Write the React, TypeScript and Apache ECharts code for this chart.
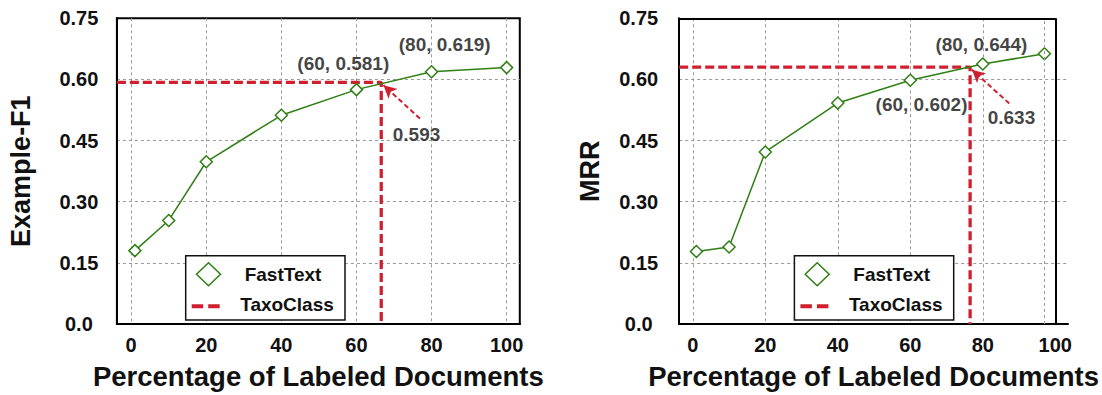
import React, { useEffect, useRef } from "react";
import * as echarts from "echarts";

// ---------- data ----------
const xF1 = [1, 10, 20, 40, 60, 80, 100];
const yF1 = [0.18, 0.254, 0.398, 0.512, 0.575, 0.619, 0.629];
const xMRR = [1, 10, 20, 40, 60, 80, 97];
const yMRR = [0.178, 0.189, 0.422, 0.542, 0.598, 0.638, 0.663];

const taxoF1 = 0.593;
const taxoF1Cross = 66.6;
const taxoMRR = 0.63;
const taxoMRRCross = 76.5;

const annF1Text = ["(60, 0.581)", "(80, 0.619)", "0.593"];
const annF1X = [56.5, 83.5, 76.0];
const annF1Y = [0.64, 0.685, 0.464];
const annMRRText = ["(80, 0.644)", "(60, 0.602)", "0.633"];
const annMRRX = [79.6, 63.1, 87.9];
const annMRRY = [0.685, 0.539, 0.507];

const arrowF1 = [[76.9, 0.504], [67.2, 0.586]];
const arrowMRR = [[87.3, 0.541], [77.0, 0.624]];

const xTicks = [0, 20, 40, 60, 80, 100];
const yMin = 0;
const yMax = 0.75;
const yStep = 0.15;
const xExtF1 = [-3.8, 103.5];
const xExtMRR = [-3.75, 103.5];
const mrrBoxRight = 100;

const seriesNames = ["FastText", "TaxoClass"];
const xTitle = "Percentage of Labeled Documents";
const yTitles = ["Example-F1", "MRR"];

// ---------- style ----------
const GREEN = "#2f7f14";
const RED = "#d01f2e";
const GRID = "#9a9a9a";
const FONT = '"Liberation Sans", Arial, Helvetica, sans-serif';
const TXT = "#111";

function legendGraphic(left: number, top: number) {
  const w = 159.3;
  const h = 64.3;
  const dx = 22.8;
  const dy1 = 18.6;
  const dy2 = 50.5;
  return {
    type: "group",
    x: left,
    y: top,
    z: 100,
    children: [
      {
        type: "rect",
        shape: { x: 0, y: 0, width: w, height: h },
        style: { fill: "#fff", stroke: "#111", lineWidth: 1.5 },
        z: 100,
      },
      {
        type: "polygon",
        shape: { points: [[dx, dy1 - 11.5], [dx + 12, dy1], [dx, dy1 + 11.5], [dx - 12, dy1]] },
        style: { fill: "#fff", stroke: GREEN, lineWidth: 1.5 },
        z: 101,
      },
      {
        type: "line",
        shape: { x1: 6, y1: dy2, x2: 34.3, y2: dy2 },
        style: { stroke: RED, lineWidth: 4, lineDash: [11.5, 5] },
        z: 101,
      },
      {
        type: "text",
        x: 97.3,
        y: dy1,
        style: {
          text: seriesNames[0],
          align: "center",
          verticalAlign: "middle",
          fontSize: 19,
          fontWeight: "bold",
          fontFamily: FONT,
          fill: TXT,
        },
        z: 101,
      },
      {
        type: "text",
        x: 101.3,
        y: dy2 - 1.5,
        style: {
          text: seriesNames[1],
          align: "center",
          verticalAlign: "middle",
          fontSize: 19,
          fontWeight: "bold",
          fontFamily: FONT,
          fill: TXT,
        },
        z: 101,
      },
    ],
  };
}

function xAxisCfg(gridIndex: number, ext: number[]) {
  return {
    type: "value",
    gridIndex,
    min: ext[0],
    max: ext[1],
    minInterval: 20,
    maxInterval: 20,
    axisLine: { show: true, onZero: false, lineStyle: { color: "#000", width: 2 } },
    axisTick: { show: false },
    axisLabel: {
      showMinLabel: false,
      showMaxLabel: false,
      margin: 11,
      fontSize: 20,
      fontWeight: "bold",
      fontFamily: FONT,
      color: TXT,
      formatter: (v: number) => (xTicks.indexOf(Math.round(v * 1000) / 1000) >= 0 ? String(v) : ""),
    },
    splitLine: {
      show: true,
      showMinLine: false,
      showMaxLine: false,
      lineStyle: { color: GRID, type: [3, 3], width: 1 },
    },
    name: xTitle,
    nameLocation: "middle",
    nameGap: 38,
    nameTextStyle: { fontSize: 27.5, fontWeight: "bold", fontFamily: FONT, color: TXT },
  };
}

function yAxisCfg(gridIndex: number, name: string, labelMargin: number, nameGap: number) {
  return {
    type: "value",
    gridIndex,
    min: yMin,
    max: yMax,
    interval: yStep,
    axisLine: { show: true, onZero: false, lineStyle: { color: "#000", width: 2 } },
    axisTick: { show: false },
    axisLabel: {
      align: "center",
      margin: labelMargin,
      fontSize: 20,
      fontWeight: "bold",
      fontFamily: FONT,
      color: TXT,
      formatter: (v: number) => (v === 0 ? "0.0" : v.toFixed(2)),
    },
    splitLine: {
      show: true,
      showMinLine: false,
      showMaxLine: false,
      lineStyle: { color: GRID, type: [3, 3], width: 1 },
    },
    name,
    nameLocation: "middle",
    nameRotate: 90,
    nameGap,
    nameTextStyle: { fontSize: 27, fontWeight: "bold", fontFamily: FONT, color: TXT },
  };
}

function fastTextSeries(idx: number, xs: number[], ys: number[]) {
  return {
    name: seriesNames[0],
    type: "line",
    xAxisIndex: idx,
    yAxisIndex: idx,
    data: xs.map((x, i) => [x, ys[i]]),
    symbol: "diamond",
    symbolSize: [12, 12],
    itemStyle: { color: "#fff", borderColor: GREEN, borderWidth: 1.5 },
    lineStyle: { color: GREEN, width: 1.5 },
    z: 4,
  };
}

function taxoSeries(idx: number, ext: number[], val: number, cross: number, arrow: number[][]) {
  return {
    name: seriesNames[1],
    type: "line",
    xAxisIndex: idx,
    yAxisIndex: idx,
    data: [
      [ext[0], val],
      [cross, val],
      [cross, yMin],
    ],
    symbol: "none",
    lineStyle: { color: RED, width: 3.3, type: [9, 4] },
    z: 3,
    markLine: {
      silent: true,
      symbol: ["none", "arrow"],
      symbolSize: [10, 13],
      label: { show: false },
      lineStyle: { color: RED, width: 2, type: [5, 3] },
      data: [[{ coord: arrow[0] }, { coord: arrow[1] }]],
    },
  };
}

function annSeries(idx: number, texts: string[], xs: number[], ys: number[]) {
  return {
    type: "scatter",
    xAxisIndex: idx,
    yAxisIndex: idx,
    silent: true,
    symbolSize: 0,
    data: texts.map((t, i) => ({ name: t, value: [xs[i], ys[i]] })),
    label: {
      show: true,
      position: "inside",
      formatter: "{b}",
      fontSize: 19,
      fontWeight: "bold",
      fontFamily: FONT,
      color: TXT,
    },
    z: 10,
  };
}

export default function App() {
  const ref = useRef<HTMLDivElement>(null);
  useEffect(() => {
    if (!ref.current) return;
    const chart = echarts.init(ref.current, undefined, { renderer: "svg" });
    const option = {
      animation: false,
      backgroundColor: "#fff",
      grid: [
        { left: 116.9, top: 18.3, width: 402.9, height: 312.7, show: true, borderColor: "#000", borderWidth: 2, backgroundColor: "transparent" },
        { left: 679.2, top: 18.3, width: 401.8, height: 312.7 },
      ],
      xAxis: [xAxisCfg(0, xExtF1), xAxisCfg(1, xExtMRR)],
      yAxis: [yAxisCfg(0, yTitles[0], 38, 82), yAxisCfg(1, yTitles[1], 40.5, 76)],
      series: [
        taxoSeries(0, xExtF1, taxoF1, taxoF1Cross, arrowF1),
        fastTextSeries(0, xF1, yF1),
        annSeries(0, annF1Text, annF1X, annF1Y),
        taxoSeries(1, xExtMRR, taxoMRR, taxoMRRCross, arrowMRR),
        fastTextSeries(1, xMRR, yMRR),
        annSeries(1, annMRRText, annMRRX, annMRRY),
        {
          type: "line",
          xAxisIndex: 1,
          yAxisIndex: 1,
          data: [],
          silent: true,
          z: 2,
          markLine: {
            silent: true,
            symbol: ["none", "none"],
            label: { show: false },
            lineStyle: { color: GRID, width: 1, type: [3, 3] },
            data: [
              [{ coord: [xMRR[xMRR.length - 1], yMin] }, { coord: [xMRR[xMRR.length - 1], yMax] }],
            ],
          },
        },
        {
          type: "line",
          xAxisIndex: 1,
          yAxisIndex: 1,
          data: [],
          silent: true,
          z: 5,
          markLine: {
            silent: true,
            symbol: ["none", "none"],
            label: { show: false },
            lineStyle: { color: "#000", width: 2, type: "solid" },
            data: [
              [{ coord: [xExtMRR[0], yMax] }, { coord: [mrrBoxRight, yMax] }],
              [{ coord: [mrrBoxRight, yMin] }, { coord: [mrrBoxRight, yMax] }],
            ],
          },
        },
      ],
      graphic: [legendGraphic(185.7, 255.7), legendGraphic(794.4, 255.7)],
    };
    chart.setOption(option as any);
    return () => chart.dispose();
  }, []);
  return (
    <div
      ref={ref}
      style={{ position: "absolute", left: 0, top: 0, width: 1102, height: 395, background: "#fff" }}
    />
  );
}
